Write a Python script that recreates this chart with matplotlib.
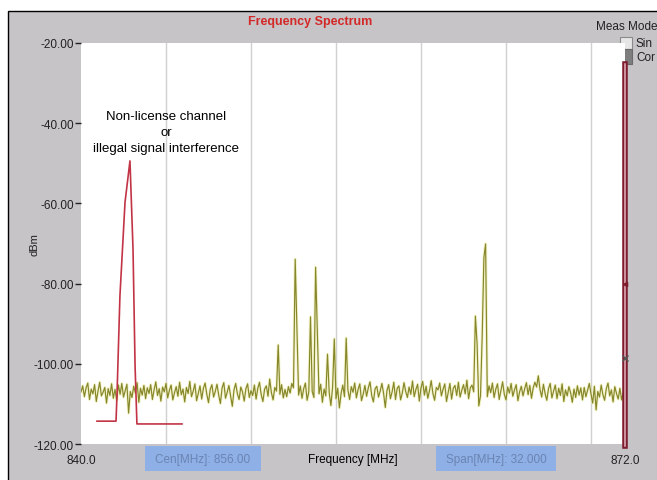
import numpy as np
import matplotlib
matplotlib.use('Agg')
import matplotlib.pyplot as plt
from matplotlib.patches import Rectangle

plt.rcParams['font.family'] = ['Liberation Sans', 'DejaVu Sans']

# measured trace, one value every 0.1 MHz from 840.0 to 872.0 (dBm)
trace_dbm = [
    -107.0, -105.5, -108.2, -106.0, -104.8, -108.9, -106.3, -107.5, -105.2, -109.4,
    -106.8, -104.6, -108.0, -107.1, -105.9, -109.8, -106.2, -107.9, -105.0, -108.6,
    -106.4, -109.1, -105.3, -107.6, -104.9, -108.3, -106.7, -105.1, -112.3, -106.9,
    -108.4, -105.6, -107.3, -104.7, -109.6, -106.1, -107.8, -105.4, -108.7, -106.0,
    -107.4, -105.2, -108.9, -106.5, -104.5, -107.9, -106.2, -109.3, -105.8, -107.0,
    -104.9, -108.5, -106.6, -105.3, -109.0, -107.2, -105.7, -108.1, -104.6, -107.7,
    -106.3, -109.5, -105.9, -107.4, -104.4, -108.2, -106.8, -105.0, -109.2, -107.3,
    -105.5, -108.8, -106.1, -104.8, -107.6, -109.7, -106.4, -105.2, -108.3, -106.9,
    -105.1, -107.8, -109.9, -106.0, -104.7, -108.6, -107.1, -105.4, -108.0, -110.6,
    -106.5, -104.9, -107.5, -108.9, -105.8, -107.0, -109.3, -106.2, -105.0, -108.4,
    -106.7, -107.9, -105.3, -108.8, -106.1, -104.6, -107.7, -109.4, -106.3, -105.5,
    -108.1, -103.8, -107.2, -109.0, -105.9, -106.8, -95.3, -107.6, -105.2, -108.5,
    -106.4, -108.2, -105.7, -107.3, -104.9, -106.0, -73.9, -90.5, -107.8, -105.5,
    -108.6, -106.2, -104.8, -109.1, -107.0, -88.3, -106.9, -108.4, -75.9, -91.8,
    -107.5, -105.1, -109.6, -106.3, -108.0, -97.6, -107.2, -110.4, -105.8, -93.8,
    -108.7, -106.1, -111.0, -107.4, -105.3, -108.2, -93.6, -106.5, -108.9, -105.7,
    -107.1, -104.8, -108.5, -106.4, -105.0, -109.2, -107.6, -105.4, -108.1, -106.0,
    -104.5, -107.9, -109.5, -106.2, -105.6, -108.3, -106.8, -104.9, -107.4, -110.9,
    -106.6, -105.2, -108.7, -107.0, -104.6, -108.9, -106.1, -105.5, -109.0, -107.3,
    -104.7, -106.9, -108.4, -105.8, -107.6, -104.3, -108.2, -106.4, -105.1, -109.3,
    -106.0, -104.4, -107.8, -105.6, -108.6, -106.7, -104.2, -107.4, -109.1, -105.9,
    -106.5, -104.8, -108.0, -106.3, -105.0, -109.4, -107.2, -104.9, -108.8, -106.1,
    -105.4, -107.9, -104.6, -108.3, -106.6, -105.2, -107.5, -104.1, -108.7, -106.0,
    -105.3, -107.0, -88.1, -95.0, -110.5, -108.0, -93.0, -73.5, -70.1, -108.2,
    -105.5, -107.2, -104.8, -108.4, -106.3, -105.0, -108.9, -106.7, -104.5, -107.6,
    -109.0, -105.8, -107.3, -104.9, -108.1, -106.5, -105.2, -109.2, -107.0, -105.6,
    -108.0, -106.2, -104.7, -107.7, -105.4, -108.6, -106.0, -104.6, -105.8, -103.0,
    -106.4, -108.3, -105.1, -107.4, -109.1, -106.2, -104.9, -108.5, -106.8, -105.3,
    -108.7, -106.1, -107.9, -105.0, -109.4, -106.5, -108.0, -105.7, -107.2, -109.6,
    -106.3, -108.4, -105.5, -107.8, -106.0, -109.0, -105.9, -108.2, -106.6, -104.9,
    -107.5, -109.8, -105.6, -111.5, -106.9, -108.3, -105.3, -107.7, -109.1, -106.2,
    -104.8, -108.0, -106.5, -109.5, -105.7, -107.4, -108.8, -106.1, -109.0, -107.2,
    -106.5,
]

# illegal / non-license signal (red trace)
intf_mhz = [840.94, 842.06, 842.12, 842.29, 842.59, 842.88, 843.06, 843.18, 843.29, 845.94]
intf_dbm = [-114.3, -114.3, -107.5, -83.1, -59.7, -49.4, -71.4, -100.5, -115.0, -115.0]

f_start, f_stop = 840.0, 872.0
y_ticks = [-20, -40, -60, -80, -100, -120]
grid_mhz = [845, 850, 855, 860, 865, 870]
grid_dbm = [-40, -60, -80, -100]

W, H = 657, 481
def fx(px):
    return px / W
def fy(py):
    return 1 - py / H

gray = '#c6c4c6'
fig = plt.figure(figsize=(W / 100, H / 100), dpi=100, facecolor='white')
fig.patches.append(Rectangle((fx(8), -0.1), 1.0, fy(12) + 0.1, transform=fig.transFigure,
                             facecolor=gray, edgecolor='black', lw=1.0, zorder=-10))

ax = fig.add_axes([fx(81), fy(445), fx(625) - fx(81), fy(44) - fy(445)])
ax.set_zorder(2)
ax.set_facecolor('white')
for s in ax.spines.values():
    s.set_visible(False)

freqs = np.linspace(f_start, f_stop, len(trace_dbm))
ax.plot(freqs, trace_dbm, color='#eaea9a', lw=2.2, alpha=0.5, zorder=2)
ax.plot(freqs, trace_dbm, color='#86862a', lw=0.85, zorder=3)
ax.plot(intf_mhz, intf_dbm, color='#c23445', lw=1.2, zorder=4)

ax.set_xlim(f_start, f_stop)
ax.set_ylim(-120, -20)
ax.set_yticks(y_ticks)
ax.set_yticklabels(['%.2f' % v for v in y_ticks])
ax.set_xticks([f_start, f_stop])
ax.set_xticklabels(['%.1f' % f_start, '%.1f' % f_stop])
ax.set_xticks(grid_mhz, minor=True)
ax.set_yticks(grid_dbm, minor=True)
ax.grid(which='minor', color='#d0d0d0', lw=1.0, zorder=1)
ax.tick_params(axis='y', which='major', length=4, width=1, pad=1, labelsize=8.5, colors='#222222')
ax.tick_params(axis='x', which='major', length=0, pad=7, labelsize=8.5, colors='#222222')
ax.tick_params(which='minor', length=0)
ax.set_xlabel('Frequency [MHz]', fontsize=8.5, labelpad=-9)
fig.text(fx(35), fy(245), 'dBm', rotation=90, ha='center', va='center', fontsize=8, color='#222222')

# marker line at right edge of the span
ax.plot([f_stop, f_stop], [-25.2, -120.5], color='#7c1c2c', lw=4.0, clip_on=False, zorder=5)
ax.plot([f_stop, f_stop], [-25.2, -120.5], color='#e4b4c0', lw=1.1, clip_on=False, zorder=6)
ax.plot([f_stop], [-80], marker='<', ms=3, color='#7c1c2c', clip_on=False, zorder=7)
ax.plot([f_stop], [-98.5], marker='x', ms=4, color='#555555', clip_on=False, zorder=7)

ax.text(845.0, -42.2, 'Non-license channel\nor\nillegal signal interference',
        ha='center', va='center', fontsize=9.5, linespacing=1.4, zorder=6)

fig.text(fx(310), fy(22), 'Frequency Spectrum', ha='center', va='center',
         fontsize=9, fontweight='bold', color='#d42828')

# meas mode selector
fig.text(fx(596), fy(27), 'Meas Mode', ha='left', va='center', fontsize=8.5, color='#222222')
fig.patches.append(Rectangle((fx(620), fy(50)), fx(12), 12 / H, transform=fig.transFigure,
                             facecolor='#e6e6e6', edgecolor='#8a8a8a', lw=0.8))
fig.patches.append(Rectangle((fx(620), fy(65)), fx(12), 15 / H, transform=fig.transFigure,
                             facecolor='#7e7e7e', edgecolor='#6a6a6a', lw=0.8))
fig.text(fx(636), fy(44), 'Sin', ha='left', va='center', fontsize=8.5, color='#222222')
fig.text(fx(636), fy(58), 'Cor', ha='left', va='center', fontsize=8.5, color='#222222')

# info boxes under the plot
for x0, x1, label in [(145, 261, 'Cen[MHz]: 856.00'), (436, 556, 'Span[MHz]: 32.000')]:
    fig.patches.append(Rectangle((fx(x0), fy(472)), fx(x1 - x0), 25 / H, transform=fig.transFigure,
                                 facecolor='#8fb0e6', edgecolor='none'))
    fig.text(fx((x0 + x1) / 2), fy(460), label, ha='center', va='center', fontsize=8.5,
             color='#6a84b2')

fig.savefig('out.png', dpi=100, facecolor=fig.get_facecolor())
